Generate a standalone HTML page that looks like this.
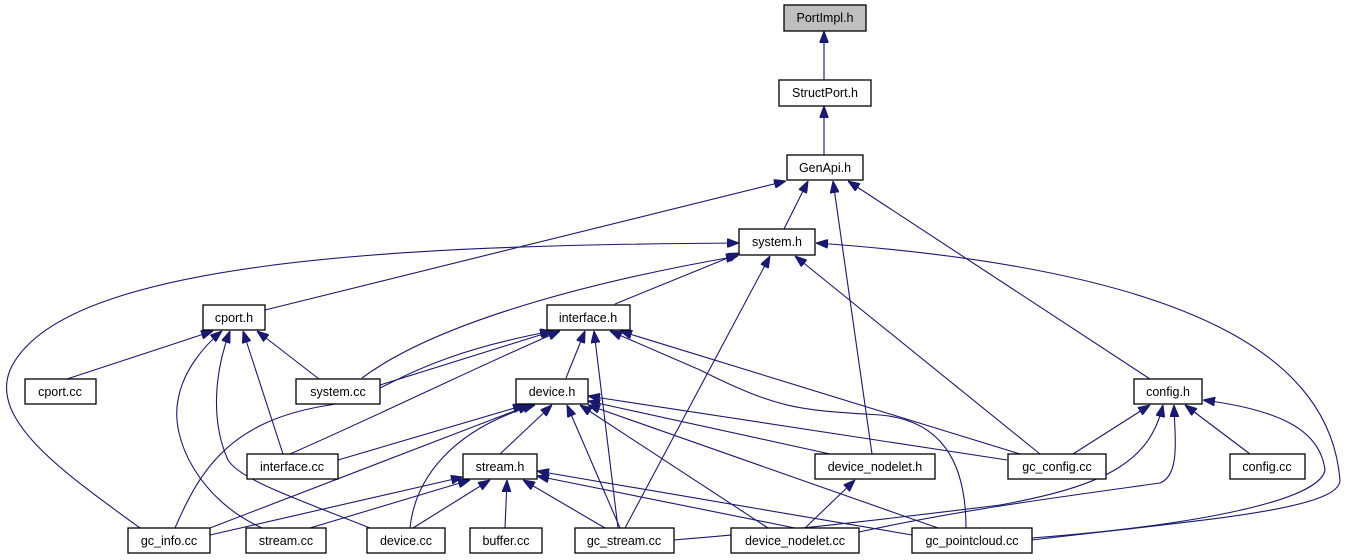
<!DOCTYPE html>
<html><head><meta charset="utf-8"><style>
html,body{margin:0;padding:0;background:#fff;}
svg{display:block;}
text{font-family:"Liberation Sans",sans-serif;font-size:12.5px;fill:#000;text-anchor:middle;}
.n{fill:#fff;stroke:#000;stroke-width:1.3;}
.e{fill:none;stroke:#191970;stroke-width:1.1;}
</style></head><body>
<svg width="1350" height="560" viewBox="0 0 1350 560" xmlns="http://www.w3.org/2000/svg">
<defs>
<marker id="a" viewBox="0 0 12 9" refX="12" refY="4.5" markerWidth="12" markerHeight="9" markerUnits="userSpaceOnUse" orient="auto">
<path d="M0,0 L12,4.5 L0,9 z" fill="#191970" stroke="#191970"/>
</marker>
</defs>
<g class="e" marker-end="url(#a)">
<path d="M824,80 L824,31"/>
<path d="M824,155 L824,106"/>
<path d="M784,229 L808,181"/>
<path d="M265,310 L786,181"/>
<path d="M872,454 L833,181"/>
<path d="M1150,379 L848,181"/>
<path d="M615,304 L740,253"/>
<path d="M362,378 C440,320 600,280 738,256"/>
<path d="M140,528 C60,470 -10,420 10,370 C60,260 400,245 739,243"/>
<path d="M625,528 L770,256"/>
<path d="M1040,454 L795,256"/>
<path d="M1032,540 C1200,520 1340,510 1340,480 C1330,360 1200,270 816,243"/>
<path d="M67,379 L213,331"/>
<path d="M319,379 L257,331"/>
<path d="M283,454 L243,331"/>
<path d="M262,528 C200,500 170,440 178,400 C183,370 205,345 222,331"/>
<path d="M370,528 C300,500 240,480 228,460 C210,420 215,370 230,331"/>
<path d="M380,385 L553,331"/>
<path d="M290,454 C390,410 470,370 560,331"/>
<path d="M175,528 C200,470 230,420 330,405 C390,395 400,360 552,331"/>
<path d="M566,378 L585,331"/>
<path d="M618,528 L594,331"/>
<path d="M1020,454 L620,331"/>
<path d="M966,528 C966,460 940,420 880,415 C800,410 780,410 700,370 L610,331"/>
<path d="M338,460 L525,405"/>
<path d="M210,528 L530,405"/>
<path d="M410,528 C415,480 450,430 535,405"/>
<path d="M500,454 L552,405"/>
<path d="M620,528 L567,405"/>
<path d="M768,528 L580,405"/>
<path d="M938,528 L588,405"/>
<path d="M830,454 L588,401"/>
<path d="M1007,460 L588,396"/>
<path d="M210,535 L463,477"/>
<path d="M310,528 L470,480"/>
<path d="M413,528 L490,480"/>
<path d="M505,528 L507,480"/>
<path d="M605,528 L523,480"/>
<path d="M795,528 L537,476"/>
<path d="M912,535 L537,471"/>
<path d="M805,528 L855,480"/>
<path d="M1073,454 L1150,405"/>
<path d="M1250,454 L1185,405"/>
<path d="M674,540 C800,530 960,510 1000,505 C1110,485 1150,460 1163,405"/>
<path d="M859,532 C960,510 1060,497 1160,483 C1180,475 1175,440 1174,405"/>
<path d="M1032,538 C1200,525 1320,500 1325,470 C1320,430 1280,410 1203,400"/>
</g>
<rect x="784" y="5" width="82" height="26" fill="#bfbfbf" stroke="#000" stroke-width="1.3"/><text x="825" y="22">PortImpl.h</text>
<rect class="n" x="779" y="80" width="92" height="26"/><text x="825" y="97">StructPort.h</text>
<rect class="n" x="787" y="155" width="76" height="25"/><text x="825" y="172">GenApi.h</text>
<rect class="n" x="739" y="229" width="76" height="26"/><text x="777" y="246">system.h</text>
<rect class="n" x="203" y="305" width="62" height="25"/><text x="234" y="322">cport.h</text>
<rect class="n" x="547" y="305" width="83" height="25"/><text x="588" y="322">interface.h</text>
<rect class="n" x="25" y="379" width="71" height="25"/><text x="60" y="396">cport.cc</text>
<rect class="n" x="296" y="379" width="84" height="25"/><text x="338" y="396">system.cc</text>
<rect class="n" x="516" y="379" width="72" height="25"/><text x="552" y="396">device.h</text>
<rect class="n" x="1134" y="379" width="68" height="25"/><text x="1168" y="396">config.h</text>
<rect class="n" x="247" y="454" width="91" height="25"/><text x="292" y="471">interface.cc</text>
<rect class="n" x="463" y="454" width="74" height="25"/><text x="500" y="471">stream.h</text>
<rect class="n" x="815" y="454" width="120" height="25"/><text x="875" y="471">device_nodelet.h</text>
<rect class="n" x="1008" y="454" width="98" height="25"/><text x="1057" y="471">gc_config.cc</text>
<rect class="n" x="1230" y="454" width="75" height="25"/><text x="1267" y="471">config.cc</text>
<rect class="n" x="128" y="528" width="82" height="25"/><text x="169" y="545">gc_info.cc</text>
<rect class="n" x="246" y="528" width="80" height="25"/><text x="286" y="545">stream.cc</text>
<rect class="n" x="367" y="528" width="78" height="25"/><text x="406" y="545">device.cc</text>
<rect class="n" x="470" y="528" width="72" height="25"/><text x="506" y="545">buffer.cc</text>
<rect class="n" x="575" y="528" width="99" height="25"/><text x="624" y="545">gc_stream.cc</text>
<rect class="n" x="731" y="528" width="128" height="25"/><text x="795" y="545">device_nodelet.cc</text>
<rect class="n" x="912" y="528" width="120" height="25"/><text x="972" y="545">gc_pointcloud.cc</text>
</svg>
</body></html>
